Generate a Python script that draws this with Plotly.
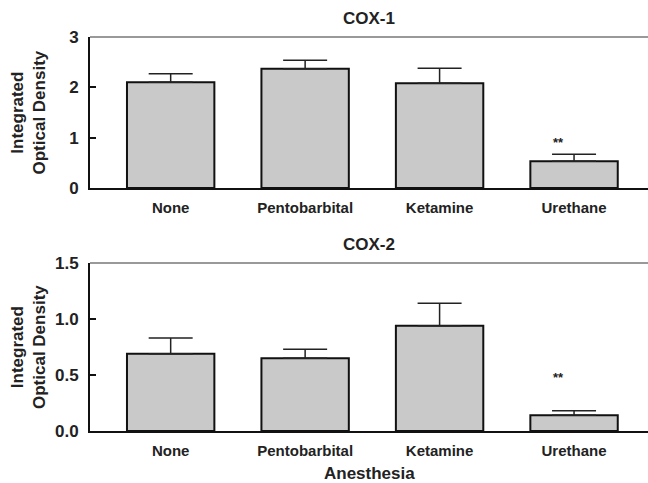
import plotly.graph_objects as go
from plotly.subplots import make_subplots

categories = ["None", "Pentobarbital", "Ketamine", "Urethane"]
cox1_values = [2.10, 2.37, 2.08, 0.53]
cox1_errors = [0.17, 0.17, 0.30, 0.14]
cox2_values = [0.69, 0.65, 0.94, 0.14]
cox2_errors = [0.14, 0.08, 0.20, 0.04]
cox1_ticks = [0, 1, 2, 3]
cox2_ticks = [0.0, 0.5, 1.0, 1.5]
panel_titles = ["COX-1", "COX-2"]
x_title = "Anesthesia"
y_title = "Integrated<br>Optical Density"
sig_label = "**"
sig_cox1 = 0.91
sig_cox2 = 0.48

FONT = "Liberation Sans, Arial, Helvetica, sans-serif"
W, H = 648, 483

fig = make_subplots(rows=2, cols=1)

def add_panel(row, vals, errs):
    fig.add_trace(go.Bar(
        x=categories, y=vals,
        width=0.65,
        marker=dict(color="#c9c9c9", line=dict(color="#111111", width=2)),
        error_y=dict(type="data", array=errs, arrayminus=[0]*len(errs),
                     symmetric=False, color="#222222", thickness=1.5, width=22),
        showlegend=False, hoverinfo="skip",
    ), row=row, col=1)

add_panel(1, cox1_values, cox1_errors)
add_panel(2, cox2_values, cox2_errors)

xdom = [90 / W, 1.0]
top_dom = [1 - 188 / H, 1 - 37 / H]
bot_dom = [1 - 431 / H, 1 - 263 / H]

axis_common = dict(showgrid=False, zeroline=False, showline=True,
                   linecolor="#111111", linewidth=2)

fig.update_xaxes(domain=xdom, range=[-0.6, 3.55], ticks="",
                 tickfont=dict(family=FONT, size=15, color="#222222", weight="bold"),
                 ticklabelstandoff=5, automargin=False, **axis_common)
fig.update_yaxes(ticks="inside", ticklen=6, tickwidth=1.5, tickcolor="#111111",
                 tickfont=dict(family=FONT, size=17, color="#222222", weight="bold"),
                 ticklabelstandoff=6, automargin=False, **axis_common)

fig.update_yaxes(domain=top_dom, range=[0, 3], tickvals=cox1_ticks,
                 ticktext=[str(t) for t in cox1_ticks], row=1, col=1)
fig.update_yaxes(domain=bot_dom, range=[0, 1.5], tickvals=cox2_ticks,
                 ticktext=[f"{t:.1f}" for t in cox2_ticks], row=2, col=1)

annotations = []
for dom, ttl, yref, sig in [(top_dom, panel_titles[0], "y", sig_cox1),
                             (bot_dom, panel_titles[1], "y2", sig_cox2)]:
    annotations.append(dict(
        text=ttl, x=(xdom[0] + xdom[1]) / 2, y=dom[1], xref="paper", yref="paper",
        xanchor="center", yanchor="bottom", yshift=7, showarrow=False,
        font=dict(family=FONT, size=17, color="#222222", weight="bold")))
    annotations.append(dict(
        text=y_title, x=28 / W, y=(dom[0] + dom[1]) / 2, xref="paper", yref="paper",
        xanchor="center", yanchor="middle", textangle=-90, showarrow=False,
        font=dict(family=FONT, size=17, color="#222222", weight="bold")))
    annotations.append(dict(
        text=sig_label, x=categories[3], y=sig, xref="x" if yref == "y" else "x2",
        yref=yref, xshift=-16, showarrow=False,
        font=dict(family=FONT, size=13, color="#222222", weight="bold")))

annotations.append(dict(
    text=x_title, x=(xdom[0] + xdom[1]) / 2, y=1 - 473 / H, xref="paper", yref="paper",
    xanchor="center", yanchor="middle", showarrow=False,
    font=dict(family=FONT, size=17, color="#222222", weight="bold")))

shapes = []
for yr in ["y domain", "y2 domain"]:
    shapes.append(dict(type="line", xref="paper", yref=yr, x0=xdom[0], x1=1.0,
                       y0=1, y1=1, line=dict(color="#777777", width=1.5)))

fig.update_layout(
    width=W, height=H, margin=dict(l=0, r=0, t=0, b=0),
    plot_bgcolor="white", paper_bgcolor="white",
    annotations=annotations, shapes=shapes, bargap=0.35,
)

fig.write_html("out.html", config={"displayModeBar": False},
               post_script="document.body.style.margin='0px';document.body.style.overflow='hidden';")
